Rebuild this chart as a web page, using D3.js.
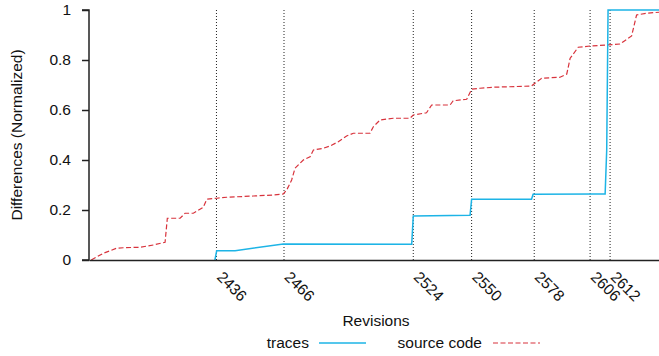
<!DOCTYPE html>
<html><head><meta charset="utf-8">
<script src="https://cdn.jsdelivr.net/npm/d3@7"></script>
<style>body{margin:0;background:#fff}svg{display:block}text{font-family:"Liberation Sans",Arial,Helvetica,sans-serif;fill:#111}</style>
</head><body><svg id="c" width="659" height="356"></svg>
<script>
// commit index (position along x) and normalized difference values
const sourceIdx = [1,6.4,12.3,15.3,22.7,28.7,33.9,34.9,40.6,42.8,46.5,50.9,52.5,56.9,61.4,73.2,82.1,86.6,88.1,90.3,91.8,95.5,98.5,100,104.4,107.4,111.1,114.8,117.8,125.2,126.7,129.7,135.6,143,144.5,150.4,152.7,160.9,162.3,168.3,170.5,174.2,180.2,197.2,198.7,201.7,209.9,212.9,214.4,218,223.3,230.7,236.6,238.1,241.8,244,248.5,254];
const sourceVal = [0,0.027,0.047,0.049,0.051,0.06,0.071,0.167,0.167,0.187,0.187,0.211,0.243,0.247,0.251,0.256,0.26,0.264,0.28,0.32,0.367,0.4,0.413,0.44,0.447,0.456,0.473,0.496,0.507,0.507,0.533,0.56,0.567,0.567,0.58,0.589,0.62,0.62,0.637,0.643,0.683,0.687,0.691,0.696,0.707,0.727,0.731,0.744,0.807,0.851,0.856,0.86,0.864,0.873,0.896,0.98,0.987,0.991];
const tracesIdx = [56.1,56.9,65.1,86.6,143.8,144.5,169.8,170.5,197.2,197.9,225.5,230,230.7,231.3,254];
const tracesVal = [0,0.037,0.037,0.064,0.063,0.176,0.179,0.243,0.243,0.263,0.264,0.264,0.44,1,1];
const revisionIdx = [56.8,86.9,144.5,170.5,198.4,223.3,232.2];
const revisionLabels = ["2436","2466","2524","2550","2578","2606","2612"];
const yTicks = [0,0.2,0.4,0.6,0.8,1];

const svg = d3.select("#c");
const L=89, R=659, T=10, B=260;
const x = d3.scaleLinear().domain([0,254]).range([L,R]);
const y = d3.scaleLinear().domain([0,1]).range([B,T]);
const blue="#1db4e6", red="#d8333c";

// dotted revision lines
svg.append("g").selectAll("line").data(revisionIdx).join("line")
  .attr("x1",d=>x(d)).attr("x2",d=>x(d)).attr("y1",B).attr("y2",T)
  .attr("stroke","#222").attr("stroke-width",1).attr("stroke-dasharray","1,2");

const line = d3.line().x(d=>x(d[0])).y(d=>y(d[1]));
svg.append("path").datum(sourceIdx.map((d,i)=>[d,sourceVal[i]]))
  .attr("d",line).attr("fill","none").attr("stroke",red).attr("stroke-width",1.2).attr("stroke-dasharray","5,2.5");
svg.append("path").datum(tracesIdx.map((d,i)=>[d,tracesVal[i]]))
  .attr("d",line).attr("fill","none").attr("stroke",blue).attr("stroke-width",1.5);

// y axis
const ya = svg.append("g").attr("transform",`translate(${L},0)`)
  .call(d3.axisLeft(y).tickValues(yTicks).tickFormat(d=>d3.format("")(d)).tickSize(7).tickPadding(11));
ya.select(".domain").attr("stroke","#222").attr("stroke-width",1.5).attr("d",`M-7,${T}H0V${B}H-7`);
ya.selectAll(".tick line").attr("stroke","#222").attr("stroke-width",1.5);
ya.selectAll(".tick text").attr("font-size","15.5px").attr("fill","#111").attr("font-family","Liberation Sans, Arial, sans-serif");

// x axis baseline
const xa = svg.append("g").attr("transform",`translate(0,${B})`)
  .call(d3.axisBottom(x).tickValues(revisionIdx).tickFormat((d,i)=>revisionLabels[i]).tickSize(0).tickPadding(0));
xa.select(".domain").attr("stroke","#222").attr("stroke-width",1.5);
xa.selectAll(".tick text").attr("font-size","15.5px").attr("fill","#111")
  .attr("font-family","Liberation Sans, Arial, sans-serif")
  .attr("text-anchor","start").attr("dy",null).attr("y",null)
  .attr("transform","translate(7,10) rotate(45)").attr("dominant-baseline","hanging");

svg.append("text").attr("x",376).attr("y",326).attr("text-anchor","middle").attr("font-size","15.5px").text("Revisions");
svg.append("text").attr("transform","translate(22,135) rotate(-90)").attr("text-anchor","middle").attr("font-size","15.5px").text("Differences (Normalized)");

// legend
svg.append("text").attr("x",309).attr("y",348).attr("text-anchor","end").attr("font-size","15.5px").text("traces");
svg.append("line").attr("x1",319).attr("x2",366).attr("y1",343).attr("y2",343).attr("stroke",blue).attr("stroke-width",1.5);
svg.append("text").attr("x",482).attr("y",348).attr("text-anchor","end").attr("font-size","15.5px").text("source code");
svg.append("line").attr("x1",493).attr("x2",540).attr("y1",343).attr("y2",343).attr("stroke",red).attr("stroke-width",1.2).attr("stroke-dasharray","5,2.5");
</script></body></html>
